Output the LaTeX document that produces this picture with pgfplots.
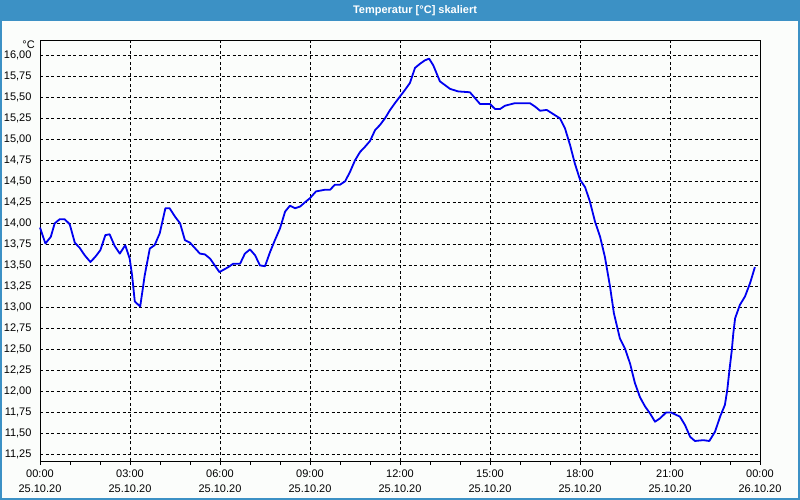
\documentclass[border=0pt]{standalone}
\usepackage{pgfplots}
\pgfplotsset{compat=1.18}
\usepackage{fontspec}
\setmainfont{Liberation Sans}
\definecolor{winblue}{RGB}{60,145,197}
\definecolor{winbg}{RGB}{251,253,251}
\definecolor{curve}{RGB}{0,0,240}

\begin{document}
\begin{tikzpicture}[font=\fontsize{11}{15}\selectfont]
	% window frame
	\fill[winbg] (0pt,0pt) rectangle (800pt,500pt);
	\fill[winblue] (0pt,479pt) rectangle (800pt,500pt);
	\draw[winblue,line width=2pt] (1pt,479pt)--(1pt,1pt)--(799pt,1pt)--(799pt,479pt);
	\node[white,font=\fontsize{11}{13}\selectfont\bfseries] at (415pt,489.5pt) {Temperatur [°C] skaliert};

	\begin{axis}[
		at={(40pt,39pt)}, anchor=south west,
		scale only axis,
		width=720pt, height=421pt,
		xmin=0, xmax=24,
		ymin=11.172, ymax=16.182,
		axis line style={black,line width=0.9pt},
		xtick={0,3,...,24},
		minor x tick num=2,
		xticklabels={{00:00\\25.10.20},{03:00\\25.10.20},{06:00\\25.10.20},{09:00\\25.10.20},{12:00\\25.10.20},{15:00\\25.10.20},{18:00\\25.10.20},{21:00\\25.10.20},{00:00\\26.10.20}},
		xticklabel style={align=center,font=\fontsize{11}{15}\selectfont,yshift=-1pt},
		ytick={11.25,11.5,...,16.01},
		yticklabel style={font=\fontsize{11}{13}\selectfont,xshift=-1pt},
		/pgf/number format/.cd, fixed, fixed zerofill, precision=2, use comma, assume math mode=true,
		/pgfplots/.cd,
		tick align=outside,
		xtick pos=bottom,
		ytick pos=left,
		ytick style={draw=none},
		major tick length=4pt,
		minor tick length=4pt,
		tick style={black,line width=0.8pt},
		grid=major,
		major grid style={black,line width=0.8pt,dash pattern=on 3pt off 2.5pt},
		clip=false,
	]
	\addplot[curve,line width=1.8pt,line join=round] coordinates {
		(0.00,13.95) (0.18,13.76) (0.36,13.84) (0.49,14.00) (0.66,14.05) (0.82,14.05)
		(0.99,13.99) (1.16,13.77) (1.32,13.71) (1.49,13.62) (1.68,13.54) (1.84,13.60)
		(2.01,13.68) (2.18,13.86) (2.32,13.87) (2.49,13.73) (2.66,13.64) (2.84,13.74)
		(2.99,13.58) (3.07,13.38) (3.16,13.07) (3.34,13.01) (3.49,13.38) (3.66,13.70)
		(3.82,13.74) (3.99,13.88) (4.18,14.18) (4.32,14.18) (4.50,14.08) (4.67,14.00)
		(4.83,13.80) (5.00,13.77) (5.33,13.64) (5.50,13.63) (5.67,13.58) (5.98,13.42)
		(6.28,13.48) (6.44,13.52) (6.67,13.52) (6.83,13.64) (7.00,13.69) (7.17,13.62)
		(7.33,13.50) (7.50,13.49) (7.67,13.66) (7.83,13.80) (8.00,13.94) (8.17,14.14)
		(8.33,14.21) (8.50,14.18) (8.67,14.20) (8.83,14.25) (9.00,14.30) (9.20,14.38)
		(9.50,14.40) (9.67,14.40) (9.83,14.46) (10.00,14.46) (10.17,14.50) (10.33,14.61)
		(10.50,14.75) (10.67,14.85) (10.83,14.91) (11.00,14.98) (11.17,15.11) (11.33,15.17)
		(11.50,15.25) (11.67,15.35) (11.83,15.43) (12.00,15.51) (12.17,15.59) (12.33,15.67)
		(12.50,15.85) (12.67,15.90) (12.83,15.94) (12.97,15.96) (13.11,15.88) (13.33,15.69)
		(13.67,15.60) (13.94,15.57) (14.33,15.56) (14.50,15.49) (14.67,15.42) (15.00,15.42)
		(15.17,15.36) (15.33,15.36) (15.50,15.40) (15.83,15.43) (16.33,15.43) (16.50,15.39)
		(16.67,15.34) (16.89,15.35) (17.11,15.30) (17.33,15.25) (17.50,15.13) (17.67,14.93)
		(17.83,14.71) (18.00,14.52) (18.17,14.43) (18.33,14.26) (18.50,14.02) (18.67,13.84)
		(18.83,13.60) (19.00,13.25) (19.13,12.93) (19.33,12.63) (19.50,12.51) (19.67,12.33)
		(19.83,12.10) (20.00,11.93) (20.17,11.82) (20.33,11.74) (20.50,11.64) (20.67,11.68)
		(20.87,11.75) (21.03,11.75) (21.33,11.70) (21.50,11.60) (21.67,11.46) (21.83,11.41)
		(22.11,11.42) (22.31,11.41) (22.50,11.52) (22.67,11.70) (22.83,11.84) (22.91,12.02)
		(22.98,12.25) (23.06,12.49) (23.11,12.69) (23.17,12.87) (23.33,13.03) (23.50,13.13)
		(23.67,13.29) (23.83,13.48)
	};
	\node[anchor=east,inner sep=0pt] at (rel axis cs:0,1) [xshift=-5pt,yshift=-5pt] {°C};
	\end{axis}
\end{tikzpicture}
\end{document}
